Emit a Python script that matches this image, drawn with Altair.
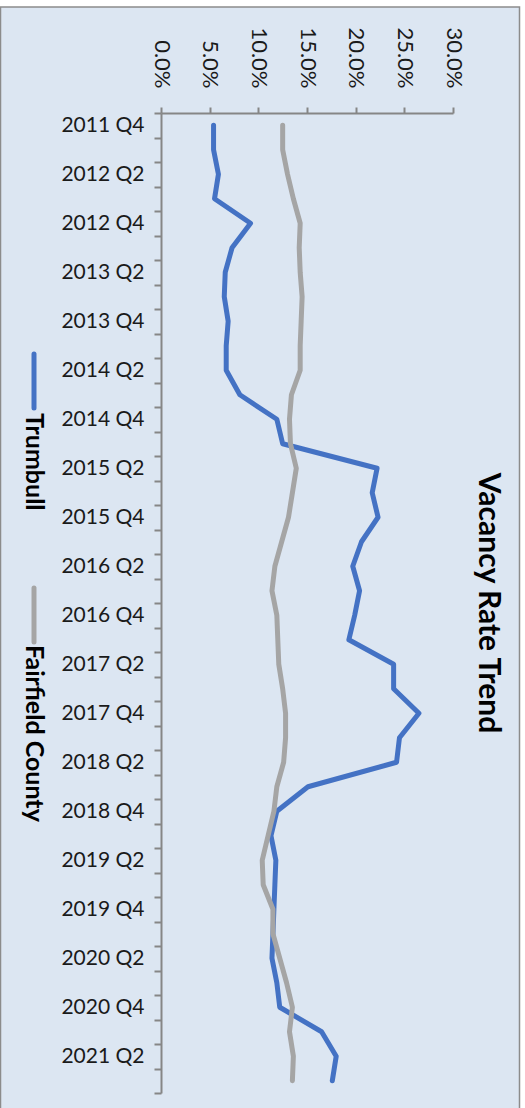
import altair as alt
import pandas as pd

# Quarterly vacancy rates (percent), 2011 Q4 through 2021 Q3
quarters = [
    "2011 Q4",
    "2012 Q1", "2012 Q2", "2012 Q3", "2012 Q4",
    "2013 Q1", "2013 Q2", "2013 Q3", "2013 Q4",
    "2014 Q1", "2014 Q2", "2014 Q3", "2014 Q4",
    "2015 Q1", "2015 Q2", "2015 Q3", "2015 Q4",
    "2016 Q1", "2016 Q2", "2016 Q3", "2016 Q4",
    "2017 Q1", "2017 Q2", "2017 Q3", "2017 Q4",
    "2018 Q1", "2018 Q2", "2018 Q3", "2018 Q4",
    "2019 Q1", "2019 Q2", "2019 Q3", "2019 Q4",
    "2020 Q1", "2020 Q2", "2020 Q3", "2020 Q4",
    "2021 Q1", "2021 Q2", "2021 Q3",
]

trumbull = [
    5.4,
    5.4, 5.9, 5.5, 9.2,
    7.3, 6.6, 6.5, 6.9,
    6.7, 6.7, 8.1, 11.9,
    12.5, 22.2, 21.7, 22.3,
    20.6, 19.7, 20.4, 19.9,
    19.3, 23.9, 23.9, 26.5,
    24.5, 24.2, 15.1, 11.9,
    11.3, 11.8, 11.7, 11.6,
    11.5, 11.4, 11.9, 12.2,
    16.5, 18.0, 17.6,
]

fairfield = [
    12.5,
    12.5, 13.0, 13.6, 14.3,
    14.2, 14.3, 14.5, 14.4,
    14.3, 14.3, 13.4, 13.2,
    13.3, 13.9, 13.5, 13.1,
    12.4, 11.7, 11.4, 11.9,
    12.0, 12.1, 12.5, 12.8,
    12.8, 12.6, 11.9, 11.6,
    11.0, 10.4, 10.5, 11.5,
    11.5, 12.2, 12.9, 13.5,
    13.2, 13.6, 13.5,
]

series_names = ["Trumbull", "Fairfield County"]
series_colors = ["#4472C4", "#A5A5A5"]
rate_ticks = [0, 5, 10, 15, 20, 25, 30]

rows = []
for name, values in zip(series_names, [trumbull, fairfield]):
    for q, v in zip(quarters, values):
        rows.append({"quarter": q, "series": name, "rate": v / 100})
df = pd.DataFrame(rows)

FONT = "Lato"
AXIS_GREY = "#868686"
TEXT = "#1a1a1a"
W, H = 292, 980

one_row = alt.Data(values=[{}])

# Panel background and border
frame = alt.Chart(one_row).mark_rect(
    fill="#DCE6F2", stroke="#8C8C8C", strokeWidth=1.5
).encode(
    x=alt.value(-160.5), x2=alt.value(358.5),
    y=alt.value(-106), y2=alt.value(1010),
)

x_enc = alt.X(
    "rate:Q",
    scale=alt.Scale(domain=[0, 0.30], nice=False, zero=True),
    axis=alt.Axis(
        orient="top", format=".1%", values=[t / 100 for t in rate_ticks],
        labelAngle=90, labelAlign="right", labelBaseline="middle",
        labelPadding=19, tickSize=6, tickWidth=2, domainWidth=2,
        domainColor=AXIS_GREY, tickColor=AXIS_GREY, grid=False, title=None,
        labelFont=FONT, labelFontSize=22, labelColor=TEXT, zindex=1,
    ),
)

y_enc = alt.Y(
    "quarter:O",
    sort=quarters,
    scale=alt.Scale(type="band", paddingInner=0, paddingOuter=0),
    axis=alt.Axis(
        orient="left", tickBand="extent", labelOverlap=False,
        labelExpr="indexof(datum.label, 'Q2') >= 0 || indexof(datum.label, 'Q4') >= 0 ? datum.label : ''",
        labelPadding=10, tickSize=7, tickWidth=2, domainWidth=2,
        domainColor=AXIS_GREY, tickColor=AXIS_GREY, grid=False, title=None,
        labelFont=FONT, labelFontSize=21, labelColor=TEXT, zindex=1,
    ),
)

color_enc = alt.Color(
    "series:N",
    scale=alt.Scale(domain=series_names, range=series_colors),
    legend=None,
)

base = alt.Chart(df).mark_line(
    strokeWidth=5, strokeCap="round", strokeJoin="round"
).encode(x=x_enc, y=y_enc, color=color_enc)

line_trumbull = base.transform_filter(alt.datum.series == series_names[0])
line_fairfield = base.transform_filter(alt.datum.series == series_names[1])

# Hand-placed legend, rotated like the rest of the chart
def legend_item(idx, y_line, y_text):
    swatch = alt.Chart(one_row).mark_rule(
        strokeWidth=5, strokeCap="round", color=series_colors[idx]
    ).encode(x=alt.value(-127), y=alt.value(y_line), y2=alt.value(y_line + 54))
    label = alt.Chart(one_row).mark_text(
        text=series_names[idx], angle=90, align="left", baseline="middle",
        font=FONT, fontSize=25, fontWeight="bold", color="#000000",
    ).encode(x=alt.value(-127), y=alt.value(y_text))
    return swatch + label

chart = alt.layer(
    frame,
    line_trumbull,
    line_fairfield,
    legend_item(0, 241, 300),
    legend_item(1, 475, 532),
).properties(
    width=W,
    height=H,
    title=alt.TitleParams(
        "Vacancy Rate Trend", orient="right", anchor="middle", frame="group",
        baseline="bottom",
        font=FONT, fontSize=30, fontWeight="bold", color="#000000",
        offset=-77, zindex=1,
    ),
    autosize=alt.AutoSizeParams(type="none"),
    padding={"left": 161, "top": 113, "right": 72, "bottom": 15},
).configure_view(stroke=None).configure(background="white")

chart.save("out.html", embed_options={"renderer": "svg", "actions": False})
